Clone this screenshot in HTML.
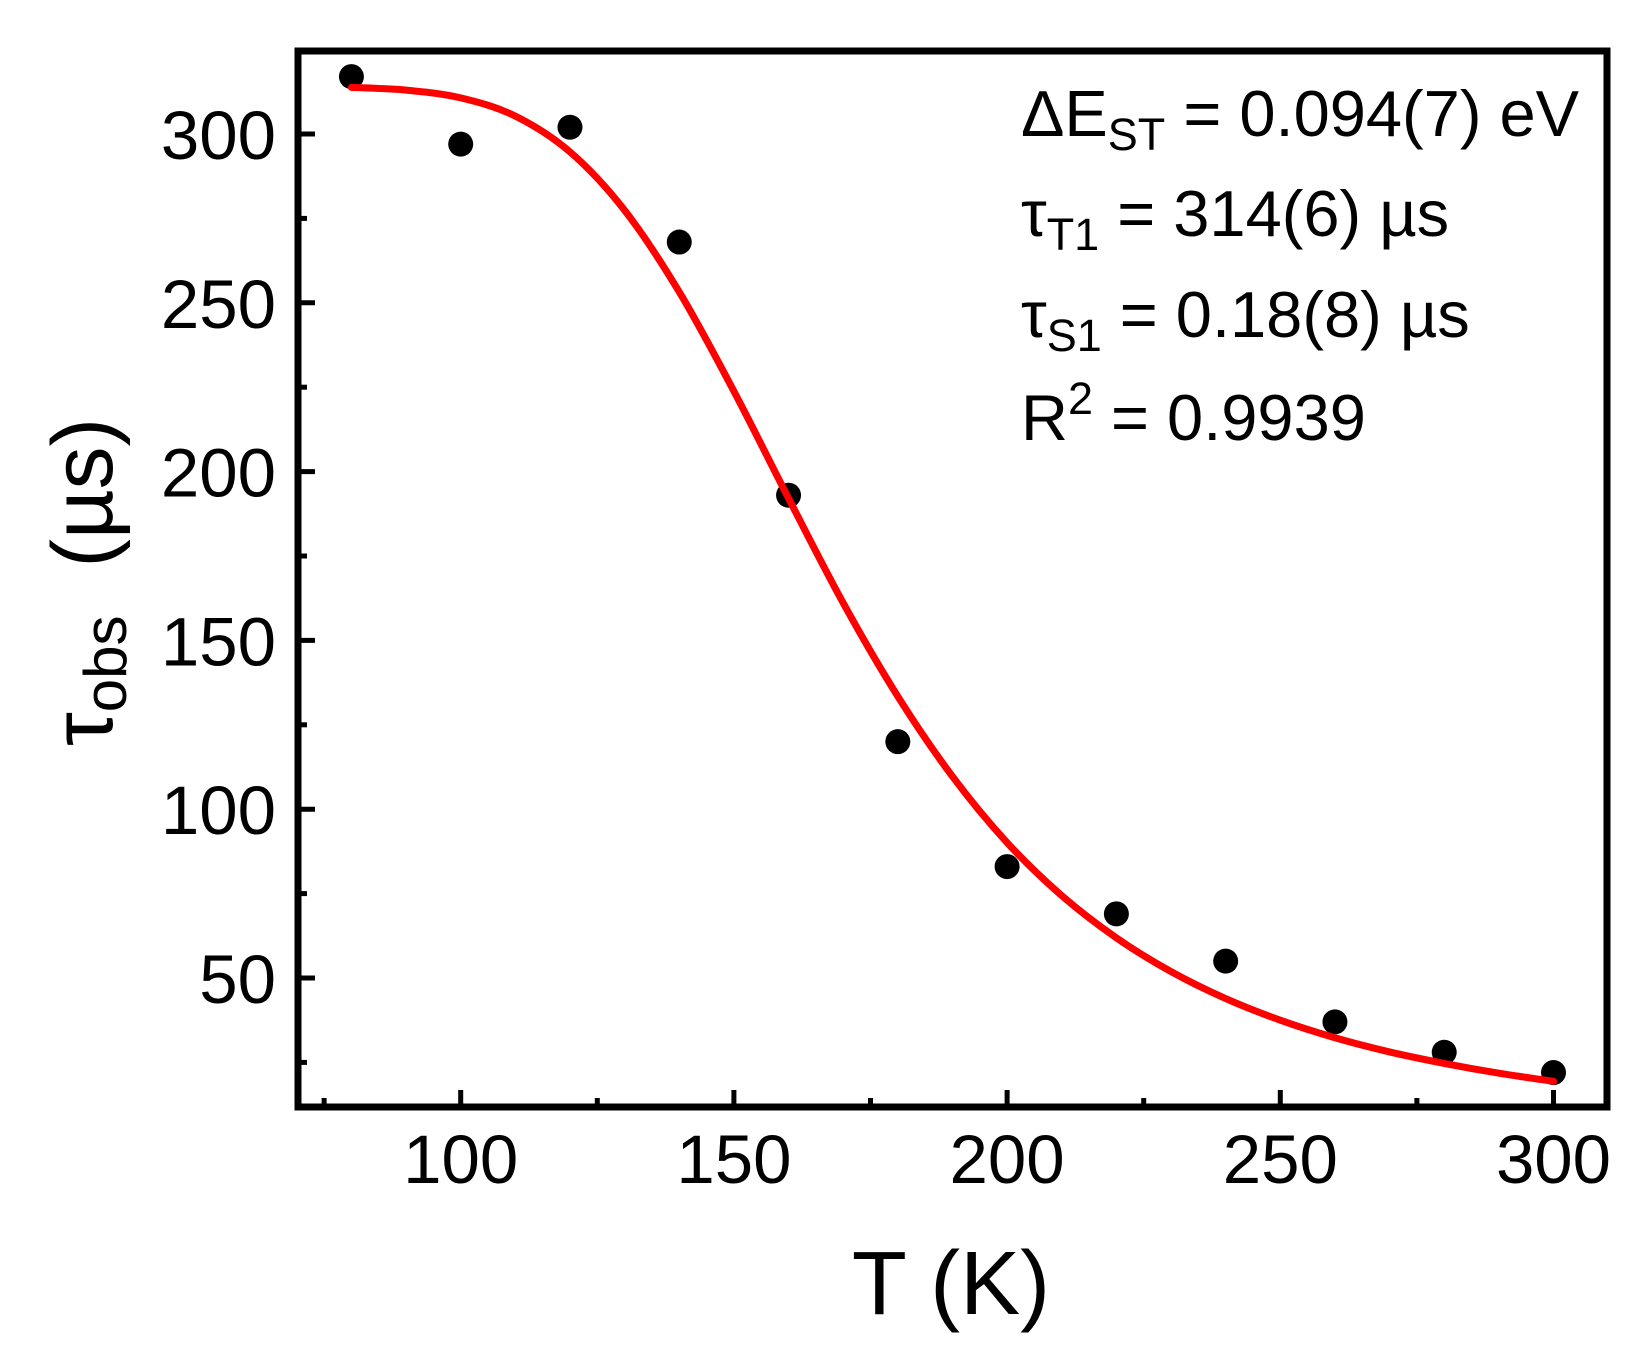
<!DOCTYPE html>
<html><head><meta charset="utf-8"><style>
html,body{margin:0;padding:0;background:#fff;}
svg{display:block;font-family:"Liberation Sans",Arial,sans-serif;}
</style></head><body>
<svg id="chart" width="1650" height="1361" viewBox="0 0 1650 1361" xmlns="http://www.w3.org/2000/svg">
<rect x="0" y="0" width="1650" height="1361" fill="#fff"/>
<g id="plot"></g>
</svg>
<script>
const temps = [80,100,120,140,160,180,200,220,240,260,280,300];
const tauObs = [317,297,302,268,193,120,83,69,55,37,28,22];
const fitT = [80,90,100,110,120,130,140,150,160,170,180,190,200,210,220,230,240,250,260,270,280,290,300];
const fitTau = [313.8,313.0,310.7,305.3,294.7,277.4,253.2,223.8,192.1,161.1,133.4,109.7,90.1,74.4,61.9,51.9,43.9,37.5,32.3,28.1,24.7,21.8,19.4];
const xTicks = [100,150,200,250,300];
const xMinor = [75,125,175,225,275];
const yTicks = [50,100,150,200,250,300];
const yMinor = [25,75,125,175,225,275];

const NS="http://www.w3.org/2000/svg";
const L=298,R=1607,T=51,B=1107;
const X=v=>460.7+(v-100)*5.464;
const Y=v=>134+(300-v)*3.376;
const g=document.getElementById('plot');
function mk(tag,attrs){const e=document.createElementNS(NS,tag);for(const k in attrs)e.setAttribute(k,attrs[k]);g.appendChild(e);return e;}

xTicks.forEach(v=>{
  const t=mk('line',{x1:X(v),x2:X(v),y1:B,y2:B-17,stroke:'#000','stroke-width':5});
  
  
  const l=mk('text',{x:X(v),y:1183,'font-size':69,'text-anchor':'middle',fill:'#000'});
  l.textContent=v;
  
  
});
xMinor.forEach(v=>{
  const t=mk('line',{x1:X(v),x2:X(v),y1:B,y2:B-9,stroke:'#000','stroke-width':5});
  
  
});
yTicks.forEach(v=>{
  const t=mk('line',{x1:L,x2:L+17,y1:Y(v),y2:Y(v),stroke:'#000','stroke-width':5});
  
  
  const l=mk('text',{x:276,y:Y(v)+25,'font-size':69,'text-anchor':'end',fill:'#000'});
  l.textContent=v;
  
  
});
yMinor.forEach(v=>{
  const t=mk('line',{x1:L,x2:L+9,y1:Y(v),y2:Y(v),stroke:'#000','stroke-width':5});
  
  
});

const fr=mk('rect',{x:L,y:T,width:R-L,height:B-T,fill:'none',stroke:'#000','stroke-width':7});



const pts=fitT.map((t,i)=>[X(t),Y(fitTau[i])]);
let d='M'+pts[0][0]+','+pts[0][1];
for(let i=0;i<pts.length-1;i++){
  const p0=pts[Math.max(0,i-1)],p1=pts[i],p2=pts[i+1],p3=pts[Math.min(pts.length-1,i+2)];
  const c1=[p1[0]+(p2[0]-p0[0])/6,p1[1]+(p2[1]-p0[1])/6];
  const c2=[p2[0]-(p3[0]-p1[0])/6,p2[1]-(p3[1]-p1[1])/6];
  d+=' C'+c1+' '+c2+' '+p2;
}
temps.forEach((t,i)=>{
  const c=mk('circle',{cx:X(t),cy:Y(tauObs[i]),r:12.5,fill:'#000'});
  
  
});
const fit=mk('path',{d:d,fill:'none',stroke:'#ff0000','stroke-width':7,'stroke-linecap':'round'});



function ann(html,y,name){
  const t=mk('text',{x:1021,y:y,'font-size':65,fill:'#000'});
  t.innerHTML=html;
  
  
}
ann('ΔE<tspan font-size="45" dy="14">ST</tspan><tspan dy="-14"> = 0.094(7) eV</tspan>',136,'annotation-delta-est');
ann('τ<tspan font-size="45" dy="14">T1</tspan><tspan dy="-14"> = 314(6) µs</tspan>',236,'annotation-tau-t1');
ann('τ<tspan font-size="45" dy="14">S1</tspan><tspan dy="-14"> = 0.18(8) µs</tspan>',337,'annotation-tau-s1');
ann('R<tspan font-size="45" dy="-26">2</tspan><tspan dy="26"> = 0.9939</tspan>',440,'annotation-r-squared');

const xt=mk('text',{x:951,y:1314,'font-size':90,'text-anchor':'middle',fill:'#000'});
xt.textContent='T (K)';


const yt=mk('text',{x:0,y:0,'font-size':86,'text-anchor':'middle',fill:'#000',transform:'translate(112,582) rotate(-90)'});
yt.innerHTML='τ<tspan font-size="60" dy="14">obs</tspan><tspan dy="-14" xml:space="preserve">  (µs)</tspan>';


</script>
</body></html>
